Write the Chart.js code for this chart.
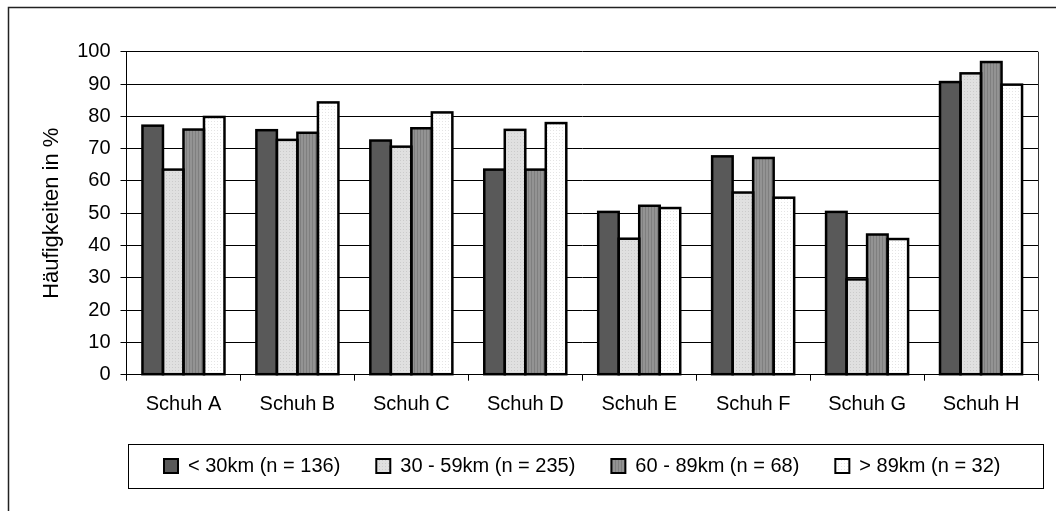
<!DOCTYPE html>
<html>
<head>
<meta charset="utf-8">
<script src="https://cdn.jsdelivr.net/npm/chart.js@4/dist/chart.umd.min.js"></script>
<style>
  html, body { margin: 0; padding: 0; background: #fff; }
  #wrap { width: 1056px; height: 511px; }
</style>
</head>
<body>
<div id="wrap"><canvas id="c" width="1056" height="511"></canvas></div>
<script>
var categories = ["Schuh A", "Schuh B", "Schuh C", "Schuh D", "Schuh E", "Schuh F", "Schuh G", "Schuh H"];
var seriesNames = ["< 30km (n = 136)", "30 - 59km (n = 235)", "60 - 89km (n = 68)", "> 89km (n = 32)"];
var under30 = [77.1, 75.7, 72.5, 63.5, 50.4, 67.6, 50.4, 90.6];
var from30to59 = [63.5, 72.7, 70.6, 75.8, 42.1, 56.4, 29.5, 93.3];
var from60to89 = [75.9, 74.9, 76.3, 63.5, 52.3, 67.1, 43.4, 96.8];
var over89 = [79.8, 84.3, 81.2, 77.9, 51.6, 54.8, 42.0, 89.8];
var yTicks = [0, 10, 20, 30, 40, 50, 60, 70, 80, 90, 100];

var FONT = "'Liberation Sans', Arial, sans-serif";

// small fill patterns like the old office charts
function makePattern(base, dot, kind) {
    var p = document.createElement("canvas");
    p.width = 3; p.height = 3;
    var g = p.getContext("2d");
    g.fillStyle = base;
    g.fillRect(0, 0, 3, 3);
    g.fillStyle = dot;
    if (kind === "stripe") {
        g.fillRect(0, 0, 1, 3);
    } else {
        g.fillRect(1, 1, 1, 1);
    }
    return document.getElementById("c").getContext("2d").createPattern(p, "repeat");
}

var fills = [
    "#595959",
    makePattern("#e0e0e0", "#cbcbcb", "dot"),
    makePattern("#939393", "#7f7f7f", "stripe"),
    makePattern("#ffffff", "#e4e4e4", "dot")
];
var values = [under30, from30to59, from60to89, over89];

var datasets = values.map(function(v, i) {
    return {
        label: seriesNames[i],
        data: v,
        backgroundColor: fills[i],
        borderWidth: 0,
        inflateAmount: 0,
        categoryPercentage: 0.72,
        barPercentage: 1.0
    };
});

// black outlines round every bar, shared between neighbours
var outlinePlugin = {
    id: "outline",
    afterDatasetsDraw: function(chart) {
        var ctx = chart.ctx;
        ctx.save();
        ctx.strokeStyle = "#000";
        ctx.lineWidth = 2.5;
        ctx.lineJoin = "miter";
        chart.data.datasets.forEach(function(ds, i) {
            chart.getDatasetMeta(i).data.forEach(function(bar) {
                var p = bar.getProps(["x", "y", "base", "width"], true);
                ctx.strokeRect(p.x - p.width / 2, p.y, p.width, p.base - p.y);
            });
        });
        ctx.restore();
    }
};

var framePlugin = {
    id: "frame",
    afterDraw: function(chart) {
        var ctx = chart.ctx, a = chart.chartArea;
        ctx.save();
        // outer frame (top and left visible)
        ctx.strokeStyle = "#222";
        ctx.lineWidth = 1.5;
        ctx.beginPath();
        ctx.moveTo(8.5, 511);
        ctx.lineTo(8.5, 7.5);
        ctx.lineTo(1056, 7.5);
        ctx.stroke();
        // plot area right edge
        ctx.strokeStyle = "#333";
        ctx.lineWidth = 1;
        ctx.beginPath();
        ctx.moveTo(a.right + 0.5, a.top);
        ctx.lineTo(a.right + 0.5, a.bottom);
        ctx.stroke();
        // legend box
        var hb = chart.legend.legendHitBoxes;
        if (hb && hb.length) {
            var first = hb[0], last = hb[hb.length - 1];
            var l = first.left - 36, r = last.left + last.width + 42;
            var t = first.top - 12, b = first.top + first.height + 12;
            ctx.strokeStyle = "#000";
            ctx.lineWidth = 1;
            ctx.strokeRect(Math.round(l) + 0.5, Math.round(t) + 0.5, Math.round(r - l), Math.round(b - t));
        }
        ctx.restore();
    }
};

new Chart(document.getElementById("c").getContext("2d"), {
    type: "bar",
    data: { labels: categories, datasets: datasets },
    plugins: [outlinePlugin, framePlugin],
    options: {
        responsive: false,
        animation: false,
        devicePixelRatio: 1,
        layout: { padding: { left: 0, right: 18, top: 51.7, bottom: 25 } },
        plugins: {
            tooltip: { enabled: false },
            legend: {
                position: "bottom",
                fullSize: false,
                labels: {
                    color: "#000",
                    font: { family: FONT, size: 20 },
                    boxWidth: 14,
                    boxHeight: 14,
                    padding: 36,
                    generateLabels: function(chart) {
                        return chart.data.datasets.map(function(ds, i) {
                            return {
                                text: ds.label,
                                fillStyle: ds.backgroundColor,
                                strokeStyle: "#000",
                                lineWidth: 2,
                                datasetIndex: i
                            };
                        });
                    }
                }
            }
        },
        scales: {
            x: {
                offset: true,
                grid: {
                    offset: true,
                    drawOnChartArea: false,
                    drawTicks: true,
                    tickLength: 6,
                    color: "#000",
                    lineWidth: 1
                },
                border: { color: "#000", width: 1 },
                ticks: {
                    color: "#000",
                    font: { family: FONT, size: 20 },
                    padding: 12,
                    maxRotation: 0
                },
                afterFit: function(s) { s.height = 45.3; }
            },
            y: {
                min: 0,
                max: 100,
                afterBuildTicks: function(s) {
                    s.ticks = yTicks.map(function(v) { return { value: v }; });
                },
                grid: {
                    color: "#000",
                    lineWidth: 1,
                    tickLength: 6,
                    drawTicks: true
                },
                border: { color: "#000", width: 1 },
                ticks: {
                    color: "#000",
                    font: { family: FONT, size: 20 },
                    padding: 10,
                    autoSkip: false
                },
                title: {
                    display: true,
                    text: "Häufigkeiten in %",
                    color: "#000",
                    font: { family: FONT, size: 22 },
                    padding: { top: 39, bottom: 0 }
                },
                afterFit: function(s) { s.width = 126.5; }
            }
        }
    }
});
</script>
</body>
</html>
